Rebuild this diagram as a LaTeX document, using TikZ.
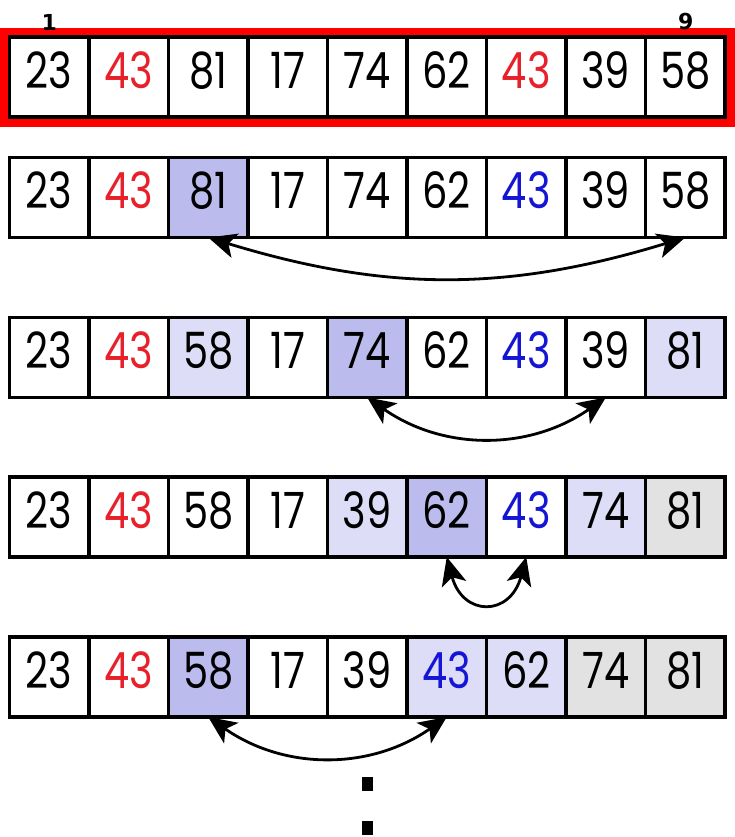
\documentclass[tikz,border=0pt]{standalone}
\usepackage{xcolor}
\usepackage{fontspec}
\usepackage{tikz}
\usetikzlibrary{arrows.meta, positioning}

\newfontfamily\cellfont[FakeStretch=0.8]{Poppins}
\newfontfamily\idxfont{DejaVu Sans}

\definecolor{pivotfill}{HTML}{BBBBEE}
\definecolor{movedfill}{HTML}{DDDDF7}
\definecolor{sortedfill}{HTML}{E2E2E2}
\definecolor{dupred}{HTML}{E8202A}
\definecolor{dupblue}{HTML}{1515D5}

\begin{document}
\begin{tikzpicture}[
    x=1pt, y=-1pt,
    node distance=0pt,
    %% ── Cell styles ───────────────────────────────────────────
    cell/.style={
        rectangle,
        minimum width=79.5pt, minimum height=80pt,
        inner sep=0pt, outer sep=0pt,
        text depth=14pt,
        draw=black, line width=3.6pt, fill=white,
        font=\cellfont\fontsize{50}{50}\selectfont
    },
    pivot/.style={cell, fill=pivotfill},
    moved/.style={cell, fill=movedfill},
    sorted/.style={cell, fill=sortedfill},
    red43/.style={text=dupred},
    blue43/.style={text=dupblue},
    idx/.style={font=\idxfont\bfseries\fontsize{22}{22}\selectfont, inner sep=0pt},
    dot/.style={rectangle, fill=black, minimum width=11pt, minimum height=14pt, inner sep=0pt},
    swap/.style={line width=2.8pt, {Stealth[length=28pt,width=25pt,inset=7pt]}-{Stealth[length=28pt,width=25pt,inset=7pt]}}
]
\useasboundingbox (0,0) rectangle (735,837);

%% ── Row 1: input ───────────────────────────────────────────────
\draw [red, line width=8pt] (4,32) rectangle (731,123);
\node (r1c1) [cell] at (49.25,77)   {23};
\node (r1c2) [cell, red43, right=of r1c1] {43};
\node (r1c3) [cell,   right=of r1c2] {81};
\node (r1c4) [cell,   right=of r1c3] {17};
\node (r1c5) [cell,   right=of r1c4] {74};
\node (r1c6) [cell,   right=of r1c5] {62};
\node (r1c7) [cell, red43, right=of r1c6] {43};
\node (r1c8) [cell,   right=of r1c7] {39};
\node (r1c9) [cell,   right=of r1c8] {58};
\node (first) [idx] at (49.25,22) {1};
\node (last)  [idx] at (685.75,22) {9};

%% ── Row 2 ──────────────────────────────────────────────────────
\node (r2c1) [cell] at (49.25,197.5) {23};
\node (r2c2) [cell, red43, right=of r2c1] {43};
\node (r2c3) [pivot,  right=of r2c2] {81};
\node (r2c4) [cell,   right=of r2c3] {17};
\node (r2c5) [cell,   right=of r2c4] {74};
\node (r2c6) [cell,   right=of r2c5] {62};
\node (r2c7) [cell, blue43, right=of r2c6] {43};
\node (r2c8) [cell,   right=of r2c7] {39};
\node (r2c9) [cell,   right=of r2c8] {58};

%% ── Row 3 ──────────────────────────────────────────────────────
\node (r3c1) [cell] at (49.25,357.5) {23};
\node (r3c2) [cell, red43, right=of r3c1] {43};
\node (r3c3) [moved,  right=of r3c2] {58};
\node (r3c4) [cell,   right=of r3c3] {17};
\node (r3c5) [pivot,  right=of r3c4] {74};
\node (r3c6) [cell,   right=of r3c5] {62};
\node (r3c7) [cell, blue43, right=of r3c6] {43};
\node (r3c8) [cell,   right=of r3c7] {39};
\node (r3c9) [moved,  right=of r3c8] {81};

%% ── Row 4 ──────────────────────────────────────────────────────
\node (r4c1) [cell] at (49.25,517) {23};
\node (r4c2) [cell, red43, right=of r4c1] {43};
\node (r4c3) [cell,   right=of r4c2] {58};
\node (r4c4) [cell,   right=of r4c3] {17};
\node (r4c5) [moved,  right=of r4c4] {39};
\node (r4c6) [pivot,  right=of r4c5] {62};
\node (r4c7) [cell, blue43, right=of r4c6] {43};
\node (r4c8) [moved,  right=of r4c7] {74};
\node (r4c9) [sorted, right=of r4c8] {81};

%% ── Row 5 ──────────────────────────────────────────────────────
\node (r5c1) [cell] at (49.25,677) {23};
\node (r5c2) [cell, red43, right=of r5c1] {43};
\node (r5c3) [pivot,  right=of r5c2] {58};
\node (r5c4) [cell,   right=of r5c3] {17};
\node (r5c5) [cell,   right=of r5c4] {39};
\node (r5c6) [moved, blue43, right=of r5c5] {43};
\node (r5c7) [moved,  right=of r5c6] {62};
\node (r5c8) [sorted, right=of r5c7] {74};
\node (r5c9) [sorted, right=of r5c8] {81};

%% ── Swap arrows ────────────────────────────────────────────────
\draw [swap] (r2c3.south) to[bend right=17] (r2c9.south);
\draw [swap] (r3c5.south) to[bend right=35] (r3c8.south);
\draw [swap] (r4c6.south) to[out=-75, in=-105, looseness=2] (r4c7.south);
\draw [swap] (r5c3.south) to[bend right=35] (r5c6.south);

%% ── Continuation dots ──────────────────────────────────────────
\node (dot1) [dot] at (367.5,784) {};
\node (dot2) [dot] at (367.5,828) {};

\end{tikzpicture}
\end{document}
